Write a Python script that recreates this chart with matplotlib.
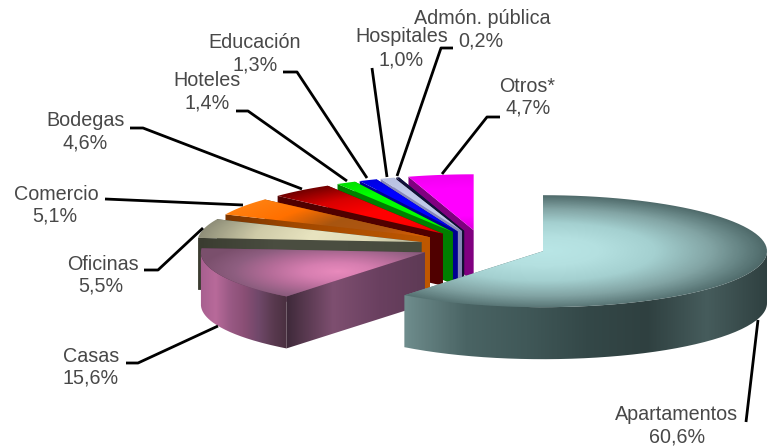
import numpy as np
import matplotlib
matplotlib.use('Agg')
import matplotlib.pyplot as plt
from matplotlib.colors import LinearSegmentedColormap
from matplotlib.path import Path
from matplotlib.patches import PathPatch

plt.rcParams['font.family'] = ['Liberation Sans', 'DejaVu Sans']

# data, clockwise from 12 o'clock
sectors = ['Apartamentos', 'Casas', 'Oficinas', 'Comercio', 'Bodegas', 'Hoteles',
           'Educación', 'Hospitales', 'Admón. pública', 'Otros*']
shares = [60.6, 15.6, 5.5, 5.1, 4.6, 1.4, 1.3, 1.0, 0.2, 4.7]

# pie geometry, in pixels of the picture
CX, CY = 483, 246
RX, RY = 224, 56
DEPTH = 52
EXPLODE = 63.5

top_stops = {
    'Apartamentos': ['#b9e6e6', '#b4e0e0', '#a4d0d0', '#82a4a4', '#4d6868'],
    'Casas': ['#e88abc', '#d67eb0', '#b46c98', '#8e5e80', '#7a4f6c'],
    'Oficinas': ['#b8b698', '#e0dcb8', '#e8e4c0', '#cfcba8', '#8e8e78'],
    'Comercio': ['#e06000', '#b05510', '#a85510', '#ff7000', '#ff8010'],
    'Bodegas': ['#e00000', '#ff0000', '#ff0000', '#d80000', '#700000'],
    'Hoteles': ['#00e000', '#00ff00', '#00ff00', '#00ff00', '#00e000'],
    'Educación': ['#0000e0', '#0000ff', '#0000ff', '#0000ff', '#0000e0'],
    'Hospitales': ['#b0b8e0', '#c0c8e8', '#c0c8e8', '#c0c8e8', '#b8c0e0'],
    'Admón. pública': ['#101040', '#101040', '#101040', '#101040', '#101040'],
    'Otros*': ['#e000e0', '#ff00ff', '#ff00ff', '#ff00ff', '#f000f0'],
}
# where the top face is lightest: offset and spread, in radii
glow = {'Casas': (-0.39, 0.35, 0.62, 0.62)}
# radial wall, from the rim to the apex
wall_stops = {
    'Apartamentos': ['#6e8c8c', '#5c7a7a', '#4a6666', '#4a6666'],
    'Casas': ['#3f2a3a', '#7e4f70', '#6a4060', '#5e3a55'],
    'Oficinas': ['#3a3c30', '#4a4d40', '#4a4d40', '#464a3c'],
    'Comercio': ['#7a3500', '#a04800', '#b05000', '#c05800'],
    'Bodegas': ['#500000', '#500000', '#500000', '#500000'],
    'Hoteles': ['#008000', '#008000', '#008000', '#008000'],
    'Educación': ['#000090', '#000090', '#000090', '#000090'],
    'Hospitales': ['#8888b8', '#8888b8', '#8888b8', '#8888b8'],
    'Admón. pública': ['#101030', '#101030', '#101030', '#101030'],
    'Otros*': ['#800080', '#800080', '#800080', '#800080'],
}
# outer wall, left to right
rim_stops = {
    'Apartamentos': ['#6e8c8c', '#4a6464', '#405858', '#344848', '#2f4040', '#465c5c', '#2f4040'],
    'Casas': ['#a86090', '#b86a9a', '#9a5a85', '#8a4f75', '#70486a', '#5a3a50', '#4a3040'],
}

# name (x, y), percentage (x, y), leader line
label_pos = {
    'Apartamentos': ((677, 415), (677, 437), [(758, 320), (746, 422)]),
    'Casas': ((91, 357), (91, 378), [(126, 363), (138, 363), (218, 326)]),
    'Oficinas': ((103, 264), (101, 286), [(144, 270), (158, 270), (203, 228)]),
    'Comercio': ((56, 194), (55, 216), [(105, 199), (243, 205)]),
    'Bodegas': ((86, 121), (85, 143), [(130, 128), (143, 128), (302, 189)]),
    'Hoteles': ((207, 81), (207, 103), [(236, 111), (248, 111), (347, 181)]),
    'Educación': ((255, 42), (255, 65), [(283, 72), (297, 72), (367, 178)]),
    'Hospitales': ((402, 37), (401, 60), [(372, 68), (387, 177)]),
    'Admón. pública': ((482, 18), (481, 41), [(453, 48), (441, 48), (397, 176)]),
    'Otros*': ((527, 87), (528, 108), [(500, 117), (487, 117), (442, 174)]),
}


def cmap_of(stops):
    return LinearSegmentedColormap.from_list('c', stops)


def paint(ax, verts, func, stops, z):
    # gradient image clipped to a polygon
    verts = np.array(verts)
    x0, y0 = np.floor(verts.min(axis=0))
    x1, y1 = np.ceil(verts.max(axis=0))
    xs, ys = np.meshgrid(np.arange(x0, x1 + 1), np.arange(y0, y1 + 1))
    im = ax.imshow(func(xs, ys), extent=(x0 - 0.5, x1 + 0.5, y1 + 0.5, y0 - 0.5), origin='upper',
                   cmap=cmap_of(stops), vmin=0, vmax=1, aspect='auto', zorder=z, interpolation='bilinear')
    patch = PathPatch(Path(np.vstack([verts, verts[0]])), transform=ax.transData, fc='none', ec='none')
    im.set_clip_path(patch)


def rim(ax_x, ax_y, a0, a1, n=80):
    t = np.radians(np.linspace(a0, a1, n))
    return np.column_stack([ax_x + RX * np.sin(t), ax_y - RY * np.cos(t)])


fig = plt.figure(figsize=(7.68, 4.47), dpi=100)
ax = fig.add_axes([0, 0, 1, 1])

angles = np.cumsum([0] + shares) * 3.6
z = 1
# painted from the back slice round to the front one
for i in range(len(sectors) - 1, -1, -1):
    name = sectors[i]
    a0, a1 = angles[i], angles[i + 1]
    mid = np.radians((a0 + a1) / 2)
    ax_x = CX + EXPLODE * np.sin(mid)
    ax_y = CY - EXPLODE * RY / RX * np.cos(mid)
    edge = rim(ax_x, ax_y, a0, a1)

    # radial walls
    for ang in (a1, a0):
        r = rim(ax_x, ax_y, ang, ang, 1)[0]
        quad = [(ax_x, ax_y), tuple(r), (r[0], r[1] + DEPTH), (ax_x, ax_y + DEPTH)]
        span = max(abs(r[0] - ax_x), 1)
        paint(ax, quad, lambda xs, ys: 1 - np.clip(np.abs(xs - ax_x) / span, 0, 1),
              wall_stops[name], z)
        z += 1

    # outer wall, only the part that faces the viewer
    lo, hi = max(a0, 90), min(a1, 270)
    if lo < hi and name in rim_stops:
        front = rim(ax_x, ax_y, lo, hi)
        verts = np.vstack([front, front[::-1] + [0, DEPTH]])
        xa, xb = front[:, 0].min(), front[:, 0].max()
        paint(ax, verts, lambda xs, ys: np.clip((xs - xa) / (xb - xa), 0, 1), rim_stops[name], z)
        z += 1

    # top face
    u0, v0, su, sv = glow.get(name, (0, 0, 1, 1))

    def top_value(xs, ys):
        u = ((xs - ax_x) / RX - u0) / su
        v = ((ys - ax_y) / RY - v0) / sv
        if name == 'Apartamentos':
            v = np.where(v > 0, v * 0.93, v)
        return np.clip(np.sqrt(u ** 2 + v ** 2), 0, 1)
    paint(ax, np.vstack([[ax_x, ax_y], edge]), top_value, top_stops[name], z)
    z += 1

for name, share in zip(sectors, shares):
    (x, y), (px, py), line = label_pos[name]
    lx, ly = zip(*line)
    ax.plot(lx, ly, color='black', lw=2, zorder=z, solid_capstyle='butt', solid_joinstyle='round')
    pct = f'{share:.1f}%'.replace('.', ',')
    ax.text(x, y, name, ha='center', va='center', fontsize=14.2, color='#484848', zorder=z + 1)
    ax.text(px, py, pct, ha='center', va='center', fontsize=14.2, color='#484848', zorder=z + 1)

ax.set_xlim(0, 768)
ax.set_ylim(447, 0)
ax.axis('off')
fig.savefig('out.png', dpi=100, facecolor='white')
